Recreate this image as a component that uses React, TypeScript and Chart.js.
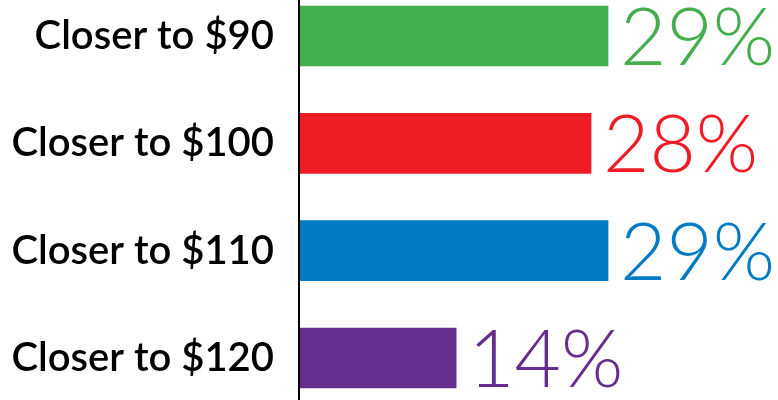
import React, { useEffect, useRef } from "react";
import { Chart, registerables } from "chart.js";

Chart.register(...registerables);

const categories = ["Closer to $90", "Closer to $100", "Closer to $110", "Closer to $120"];
const values = [29, 27.4, 29, 14.7];
const valueLabels = ["29%", "28%", "29%", "14%"];
const colors = ["#44AD4D", "#EE1D25", "#027BC4", "#652E8E"];

const valueLabelPlugin = {
  id: "valueLabels",
  afterDatasetsDraw(chart: any) {
    const { ctx } = chart;
    const meta = chart.getDatasetMeta(0);
    ctx.save();
    ctx.font = "300 80px Lato";
    ctx.textAlign = "left";
    ctx.textBaseline = "alphabetic";
    meta.data.forEach((bar: any, i: number) => {
      ctx.fillStyle = colors[i];
      ctx.fillText(valueLabels[i], bar.x + 12, bar.y + 29);
    });
    ctx.restore();
  },
};

const axisLinePlugin = {
  id: "axisLine",
  afterDraw(chart: any) {
    const { ctx, chartArea } = chart;
    ctx.save();
    ctx.strokeStyle = "#000";
    ctx.lineWidth = 2;
    ctx.beginPath();
    ctx.moveTo(chartArea.left - 1, 0);
    ctx.lineTo(chartArea.left - 1, chart.height);
    ctx.stroke();
    ctx.restore();
  },
};

export default function App() {
  const ref = useRef<HTMLCanvasElement>(null);
  useEffect(() => {
    document.body.style.margin = "0";
    const chart = new Chart(ref.current!, {
      type: "bar",
      data: {
        labels: categories,
        datasets: [
          {
            data: values,
            backgroundColor: colors,
            borderWidth: 0,
            barThickness: 60,
            clip: false as any,
          },
        ],
      },
      options: {
        indexAxis: "y",
        animation: false,
        responsive: false,
        layout: { padding: { top: 36, bottom: 42, left: 0, right: 0 } },
        plugins: { legend: { display: false }, tooltip: { enabled: false } },
        scales: {
          x: { display: false, min: 0, max: 45 },
          y: {
            offset: false,
            grid: { display: false, drawTicks: false },
            border: { display: false },
            ticks: {
              color: "#000",
              padding: 26,
              font: { family: "Lato", size: 40, weight: "600" },
            },
            afterFit: (s: any) => {
              s.width = 300;
              s.paddingTop = 0;
              s.paddingBottom = 0;
            },
          },
        },
      },
      plugins: [valueLabelPlugin, axisLinePlugin],
    });
    return () => chart.destroy();
  }, []);
  return <canvas ref={ref} width={778} height={400} style={{ display: "block" }} />;
}
